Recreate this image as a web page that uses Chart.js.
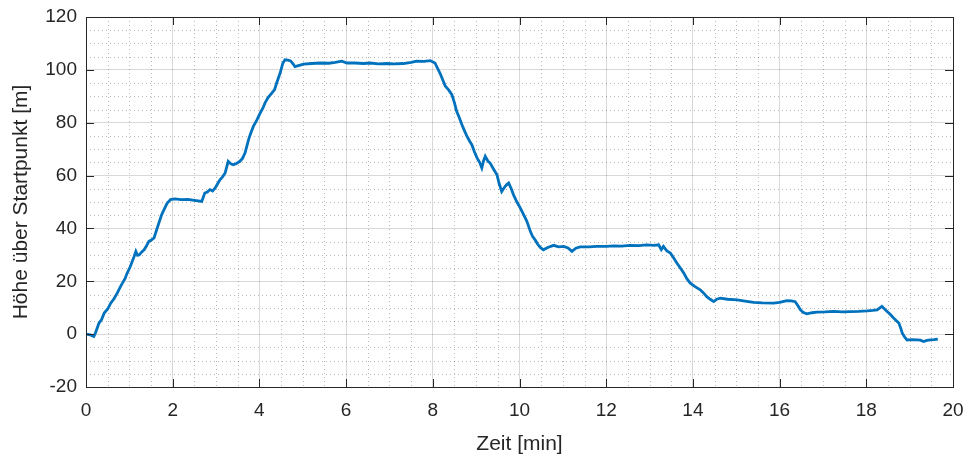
<!DOCTYPE html>
<html>
<head>
<meta charset="utf-8">
<script src="https://cdn.jsdelivr.net/npm/chart.js@4.4.1/dist/chart.umd.min.js"></script>
<style>
  html, body { margin: 0; padding: 0; background: #fff; }
  #wrap { width: 970px; height: 457px; }
</style>
</head>
<body>
<div id="wrap"><canvas id="canvas" width="970" height="457"></canvas></div>
<script>
// Zeit in Minuten
const zeit = [
  0, 0.1, 0.18, 0.22, 0.3, 0.36, 0.42, 0.5, 0.57, 0.65, 0.72, 0.78, 0.84, 0.9, 0.95,
  1.02, 1.11, 1.15, 1.19, 1.23, 1.28, 1.34, 1.4, 1.45, 1.5, 1.57, 1.63, 1.68, 1.74, 1.8, 1.87, 1.95,
  2.05, 2.19, 2.35, 2.5, 2.67, 2.74, 2.8, 2.86, 2.92, 2.98,
  3.04, 3.09, 3.15, 3.21, 3.28, 3.34, 3.4, 3.47, 3.55, 3.61, 3.67, 3.75, 3.8, 3.86, 3.94,
  4.02, 4.08, 4.13, 4.2, 4.29, 4.35, 4.4, 4.48, 4.54, 4.59, 4.66, 4.72, 4.78, 4.82, 4.9,
  5.02, 5.2, 5.4, 5.6, 5.75, 5.9, 6.02, 6.2, 6.4, 6.55, 6.75, 6.94, 7.1, 7.32, 7.5, 7.63, 7.8, 7.94,
  8.05, 8.17, 8.29, 8.36, 8.44, 8.5, 8.55, 8.61, 8.67, 8.73, 8.79, 8.85, 8.9, 8.96,
  9.02, 9.08, 9.13, 9.17, 9.21, 9.27, 9.32, 9.4, 9.48, 9.53, 9.59, 9.65, 9.7, 9.75, 9.81, 9.86, 9.94,
  10.02, 10.1, 10.17, 10.25, 10.3, 10.36, 10.42, 10.48, 10.55, 10.65, 10.79, 10.9,
  11.02, 11.12, 11.21, 11.3, 11.4, 11.6, 11.78, 12.0, 12.17, 12.35, 12.55, 12.75, 12.94,
  13.1, 13.21, 13.27, 13.32, 13.4, 13.48, 13.55, 13.63, 13.71, 13.79, 13.86, 13.94,
  14.05, 14.17, 14.25, 14.32, 14.4, 14.48, 14.55, 14.63, 14.8, 15.02, 15.2, 15.4, 15.6, 15.86,
  16.0, 16.17, 16.27, 16.36, 16.42, 16.48, 16.55, 16.63, 16.75, 16.86, 17.05, 17.24, 17.45, 17.63, 17.82,
  18.02, 18.15, 18.25, 18.36, 18.42, 18.48, 18.55, 18.63, 18.7, 18.75, 18.8, 18.83, 18.88, 18.94,
  19.05, 19.17, 19.25, 19.32, 19.4, 19.48, 19.56, 19.65
];

// Hoehe ueber Startpunkt in m
const hoehe = [
  0, -0.3, -0.9, 0.5, 4.2, 5.5, 8, 9.5, 11.7, 13.5, 15.5, 17.5, 19.3, 21, 23.1,
  25.5, 29.4, 31.3, 29.8, 30.0, 31, 31.9, 33.5, 35.1, 35.5, 36.4, 39.5, 42, 45, 47.1, 49.5, 50.9,
  51.2, 50.9, 51, 50.6, 50.2, 53.4, 53.8, 54.7, 54.2, 55.3,
  57, 58.4, 59.5, 61, 65.4, 64.5, 64.1, 64.6, 65.4, 66.5, 68.6, 73.6, 76, 78.6, 81,
  83.7, 85.5, 87.5, 89.5, 91.3, 92.5, 95.1, 98.9, 102.5, 103.8, 103.7, 103.4, 102.2, 101.2, 101.6,
  102.2, 102.4, 102.6, 102.5, 102.8, 103.3, 102.6, 102.6, 102.4, 102.6, 102.3, 102.4, 102.3, 102.4, 102.8, 103.3, 103.2, 103.5,
  102.6, 98.6, 93.8, 92.5, 90.6, 87.5, 84.3, 82, 79.3, 77, 74.8, 73, 71.7, 69,
  66.7, 65, 62.9, 65.5, 67.3, 65.5, 64.8, 62.5, 60.3, 57, 54, 55.5, 56.5, 57.2, 55, 52.8, 50,
  47.7, 45, 42.7, 38.9, 37, 35.7, 34, 32.8, 31.9, 32.8, 33.6, 33,
  33.2, 32.6, 31.3, 32.5, 33, 33, 33.2, 33.2, 33.4, 33.3, 33.6, 33.5, 33.8,
  33.6, 33.8, 32, 33.2, 31.5, 30.7, 29, 26.9, 25, 23.1, 21, 19.3,
  18, 16.8, 15.5, 14.2, 13.2, 12.3, 13.2, 13.6, 13.2, 13, 12.5, 12, 11.8, 11.7,
  12, 12.7, 12.6, 12.3, 10.8, 9.2, 8.2, 7.7, 8.1, 8.3, 8.4, 8.6, 8.4, 8.5, 8.6,
  8.8, 9, 9.2, 10.5, 9.5, 8.6, 7.5, 6.1, 5, 4.2, 2, 0.4, -1, -2.2,
  -2.1, -2.2, -2.3, -2.8, -2.4, -2.2, -2.1, -1.9
];

// Achsen
const xTicks = [0, 2, 4, 6, 8, 10, 12, 14, 16, 18, 20];
const yTicks = [-20, 0, 20, 40, 60, 80, 100, 120];
const xMinorStep = 0.5;
const yMinorStep = 5;

const achse = '#262626';
const font = "'Liberation Sans', Arial, Helvetica, sans-serif";

// dotted minor grid, box and inward ticks (MATLAB look)
const matlabAxes = {
  id: 'matlabAxes',
  beforeDatasetsDraw(chart) {
    const { ctx, chartArea: a, scales: { x, y } } = chart;
    ctx.save();
    ctx.strokeStyle = 'rgba(0,0,0,0.28)';
    ctx.lineWidth = 1;
    ctx.setLineDash([1, 3]);
    for (let v = x.min + xMinorStep; v < x.max; v += xMinorStep) {
      if (xTicks.includes(v)) continue;
      const px = Math.round(x.getPixelForValue(v)) + 0.5;
      ctx.beginPath(); ctx.moveTo(px, a.top); ctx.lineTo(px, a.bottom); ctx.stroke();
    }
    for (let v = y.min + yMinorStep; v < y.max; v += yMinorStep) {
      if (yTicks.includes(v)) continue;
      const py = Math.round(y.getPixelForValue(v)) + 0.5;
      ctx.beginPath(); ctx.moveTo(a.left, py); ctx.lineTo(a.right, py); ctx.stroke();
    }
    ctx.restore();
  },
  afterDatasetsDraw(chart) {
    const { ctx, chartArea: a, scales: { x, y } } = chart;
    const len = 8;
    ctx.save();
    ctx.strokeStyle = achse;
    ctx.lineWidth = 1;
    ctx.beginPath();
    xTicks.forEach(v => {
      const px = Math.round(x.getPixelForValue(v)) + 0.5;
      ctx.moveTo(px, a.bottom); ctx.lineTo(px, a.bottom - len);
      ctx.moveTo(px, a.top); ctx.lineTo(px, a.top + len);
    });
    yTicks.forEach(v => {
      const py = Math.round(y.getPixelForValue(v)) + 0.5;
      ctx.moveTo(a.left, py); ctx.lineTo(a.left + len, py);
      ctx.moveTo(a.right, py); ctx.lineTo(a.right - len, py);
    });
    ctx.stroke();
    ctx.strokeRect(Math.round(a.left) + 0.5, Math.round(a.top) + 0.5,
      Math.round(a.right - a.left), Math.round(a.bottom - a.top));
    ctx.restore();
  }
};

new Chart(document.getElementById('canvas').getContext('2d'), {
  type: 'line',
  data: {
    datasets: [{
      data: zeit.map((t, i) => ({ x: t, y: hoehe[i] })),
      borderColor: '#0072BD',
      borderWidth: 2.8,
      pointRadius: 0,
      tension: 0,
      fill: false
    }]
  },
  options: {
    responsive: false,
    animation: false,
    layout: { padding: { top: 17, right: 17, left: 9, bottom: 0 } },
    plugins: { legend: { display: false }, tooltip: { enabled: false } },
    scales: {
      x: {
        type: 'linear',
        min: 0, max: 20,
        afterBuildTicks: s => { s.ticks = xTicks.map(v => ({ value: v })); },
        afterFit: s => { s.height = 70; s.paddingLeft = 0; s.paddingRight = 0; },
        grid: { color: 'rgba(0,0,0,0.15)', drawTicks: false },
        border: { display: false },
        ticks: { color: achse, font: { family: font, size: 19 }, padding: 12, maxRotation: 0 },
        title: { display: true, text: 'Zeit [min]', color: achse, font: { family: font, size: 21 }, padding: { top: 4, bottom: 0 } }
      },
      y: {
        type: 'linear',
        min: -20, max: 120,
        afterBuildTicks: s => { s.ticks = yTicks.map(v => ({ value: v })); },
        afterFit: s => { s.width = 77; s.paddingTop = 0; s.paddingBottom = 0; },
        grid: { color: 'rgba(0,0,0,0.15)', drawTicks: false },
        border: { display: false },
        ticks: { color: achse, font: { family: font, size: 19 }, padding: 9 },
        title: { display: true, text: 'Höhe über Startpunkt [m]', color: achse, font: { family: font, size: 21 }, padding: { top: 0, bottom: 4 } }
      }
    }
  },
  plugins: [matlabAxes]
});
</script>
</body>
</html>
